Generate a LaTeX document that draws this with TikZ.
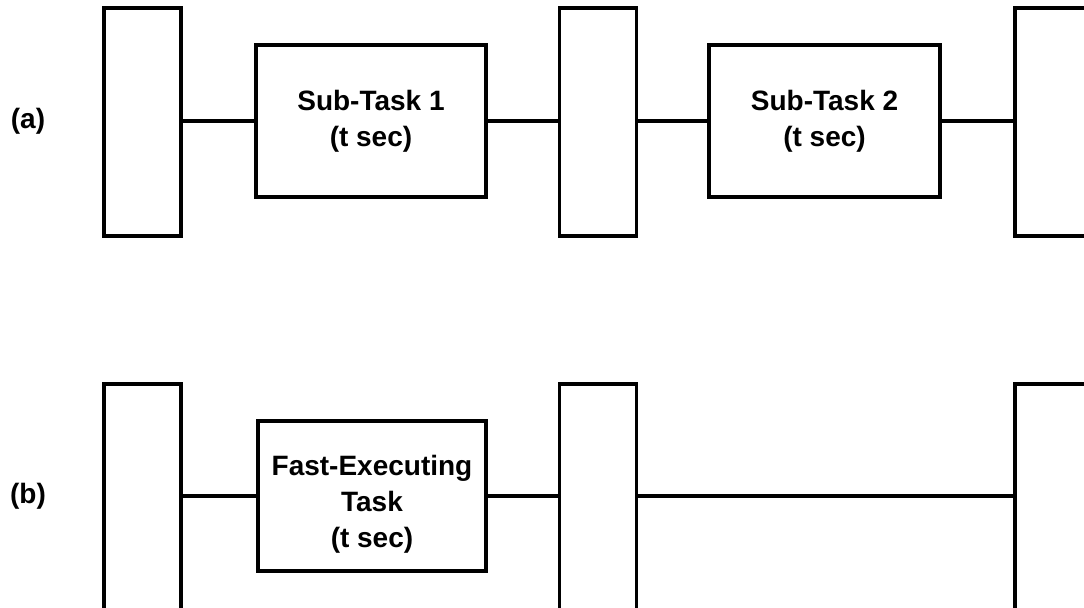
\documentclass[tikz,border=0pt]{standalone}
\usepackage{fontspec}
\setmainfont{Liberation Sans}
\begin{document}
\begin{tikzpicture}[x=0.75pt,y=-0.75pt,
  every node/.style={font=\fontsize{21}{27}\selectfont\bfseries},
  reg/.style={draw, line width=2.5pt, minimum width=77*0.75pt, minimum height=228*0.75pt, inner sep=0pt},
  taskbox/.style={draw, line width=2.5pt, align=center, inner sep=0pt},
  wire/.style={line width=2.5pt}]
\useasboundingbox (0,0) rectangle (1084,607);
\clip (0,0) rectangle (1084,607);
% row (a)
\node (la) at (28,121) {(a)};
\node[reg] (a1) at (142.5,122) {};
\node[taskbox, minimum width=230*0.75pt, minimum height=152*0.75pt] (st1) at (371,121) {Sub-Task 1\\(t sec)};
\node[reg] (a2) at (598,122) {};
\node[taskbox, minimum width=231*0.75pt, minimum height=152*0.75pt] (st2) at (824.5,121) {Sub-Task 2\\(t sec)};
\node[reg] (a3) at (1053.5,122) {};
\draw[wire] (a1.east |- st1.west) -- (st1.west);
\draw[wire] (st1.east) -- (a2.west |- st1.east);
\draw[wire] (a2.east |- st2.west) -- (st2.west);
\draw[wire] (st2.east) -- (a3.west |- st2.east);
% row (b)
\node (lb) at (28,496) {(b)};
\node[reg] (b1) at (142.5,498) {};
\node[taskbox, minimum width=228*0.75pt, minimum height=150*0.75pt] (fet) at (372,496) {};
\node[align=center, inner sep=0pt] (fettext) at ([yshift=-6pt]fet.center) {Fast-Executing\\Task\\(t sec)};
\node[reg] (b2) at (598,498) {};
\node[reg] (b3) at (1053.5,498) {};
\draw[wire] (b1.east |- fet.west) -- (fet.west);
\draw[wire] (fet.east) -- (b2.west |- fet.east);
\draw[wire] (b2.east |- fet.east) -- (b3.west |- fet.east);
\end{tikzpicture}
\end{document}
